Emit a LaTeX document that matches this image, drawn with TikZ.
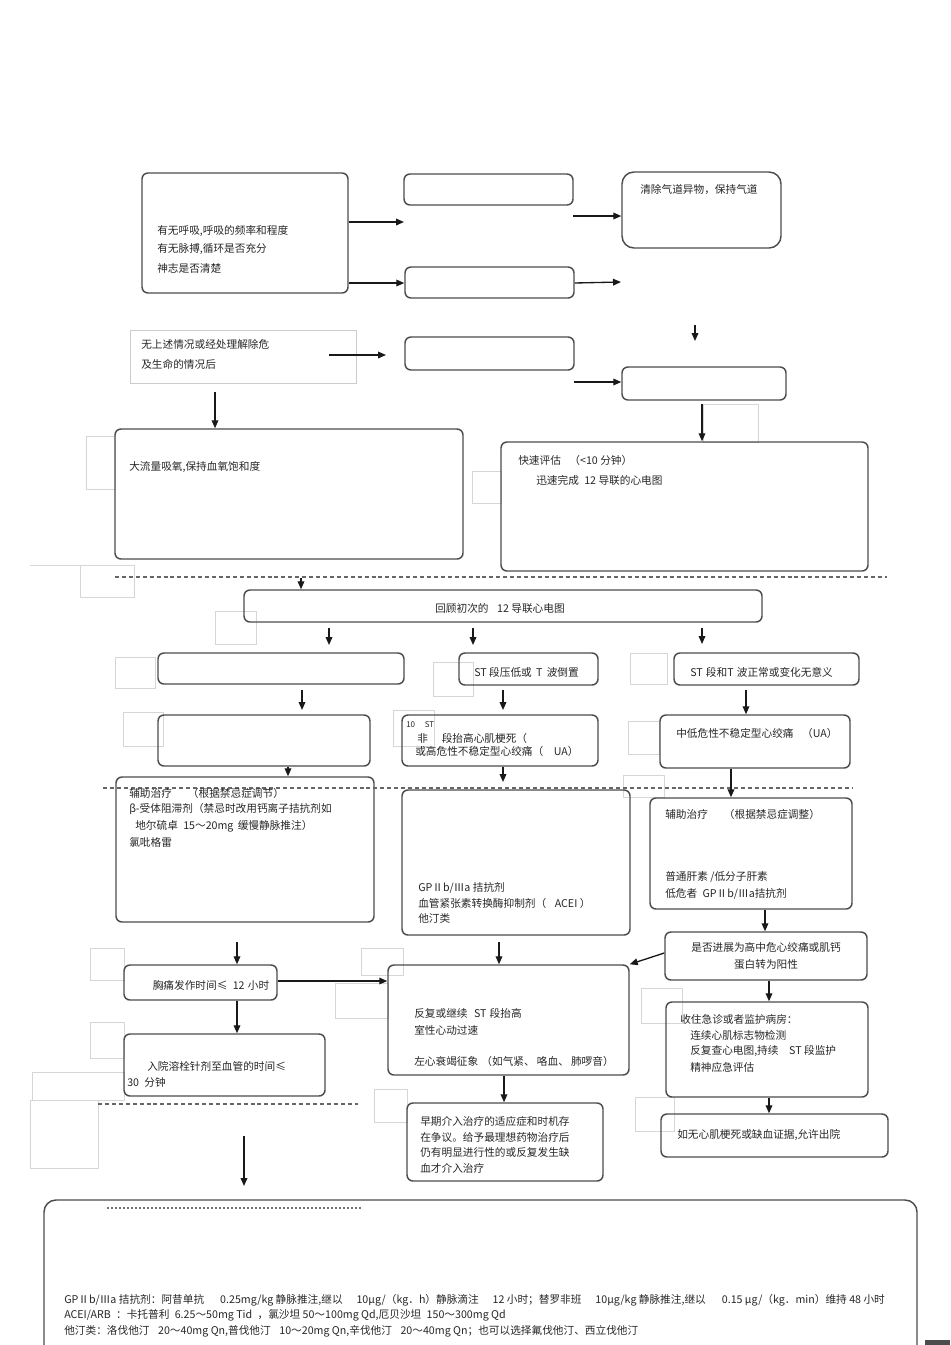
\documentclass[tikz,border=0pt]{standalone}
\usepackage{fontspec}
\setmainfont{Noto Sans CJK SC}
\usetikzlibrary{arrows.meta,fit}
\begin{document}
\begin{tikzpicture}[x=0.75pt,y=-0.75pt,
  box/.style={draw=black!70, line width=1.1pt, rounded corners=4.5pt, inner sep=0pt},
  bigbox/.style={draw=black!70, line width=1.1pt, rounded corners=9pt, inner sep=0pt},
  plain/.style={draw=black!20, line width=0.6pt, inner sep=0pt},
  faint/.style={draw=black!16, line width=0.6pt},
  txt/.style={anchor=west, inner sep=0pt, font=\fontsize{8}{9.6}\selectfont, text=black!85},
  ctxt/.style={anchor=center, inner sep=0pt, font=\fontsize{8}{9.6}\selectfont, text=black!85},
  small/.style={anchor=west, inner sep=0pt, font=\fontsize{6}{7}\selectfont, text=black!85},
  arr/.style={-{Triangle[length=6pt,width=5pt]}, line width=1pt, draw=black!90},
  dsh/.style={draw=black!60, line width=0.9pt, dash pattern=on 3pt off 2.2pt},
  dots/.style={draw=black!55, line width=0.8pt, dash pattern=on 1.5pt off 1.5pt}]
\useasboundingbox (0,0) rectangle (950,1345);

% faint background rectangles
\draw[faint] (86,436) rectangle (115,489);
\draw[faint] (472,471) rectangle (501,503);
\draw[faint] (703,404) rectangle (758,442);
\draw[faint] (80,565) rectangle (134,597);
\draw[faint] (30,565) -- (80,565);
\draw[faint] (215,611) rectangle (256,644);
\draw[faint] (115,657) rectangle (155,688);
\draw[faint] (433,662) rectangle (473,696);
\draw[faint] (630,653) rectangle (667,684);
\draw[faint] (393,710) rectangle (434,746);
\draw[faint] (123,712) rectangle (163,746);
\draw[faint] (628,721) rectangle (659,754);
\draw[faint] (623,775) rectangle (664,797);
\draw[faint] (90,948) rectangle (124,980);
\draw[faint] (90,1022) rectangle (124,1058);
\draw[faint] (32,1072) rectangle (124,1100);
\draw[faint] (30,1100) rectangle (98,1168);
\draw[faint] (335,983) rectangle (388,1018);
\draw[faint] (361,948) rectangle (403,975);
\draw[faint] (374,1089) rectangle (407,1122);
\draw[faint] (641,988) rectangle (682,1023);
\draw[faint] (635,1097) rectangle (674,1131);

% boxes
\node[box, fit={(142,173) (348,293)}] (A) {};
\node[box, fit={(404,174) (573,205)}] (B1) {};
\node[box, fit={(405,267) (574,298)}] (B2) {};
\node[bigbox, fit={(622,172) (781,248)}] (C) {};
\node[plain, fit={(130,330) (356,383)}] (D) {};
\node[box, fit={(405,337) (574,370)}] (E) {};
\node[box, fit={(622,367) (786,400)}] (F) {};
\node[box, fit={(115,429) (463,559)}] (G) {};
\node[box, fit={(501,442) (868,571)}] (H) {};
\node[box, fit={(244,590) (762,622)}] (I) {};
\node[box, fit={(158,653) (404,684)}] (J1) {};
\node[box, fit={(459,653) (598,685)}] (J2) {};
\node[box, fit={(674,653) (859,685)}] (J3) {};
\node[box, fit={(158,715) (370,766)}] (K1) {};
\node[box, fit={(402,715) (598,766)}] (K2) {};
\node[box, fit={(660,715) (850,768)}] (K3) {};
\node[box, fit={(116,777) (374,922)}] (L1) {};
\node[box, fit={(402,790) (630,935)}] (L2) {};
\node[box, fit={(650,798) (852,909)}] (L3) {};
\node[box, fit={(124,965) (277,1000)}] (M1) {};
\node[box, fit={(665,932) (867,980)}] (M3) {};
\node[box, fit={(388,965) (629,1075)}] (N2) {};
\node[box, fit={(124,1034) (325,1096)}] (M1b) {};
\node[box, fit={(666,1002) (868,1097)}] (N3) {};
\node[box, fit={(407,1103) (603,1181)}] (O) {};
\node[box, fit={(661,1114) (888,1157)}] (Q) {};
\draw[draw=black!70, line width=1.1pt, rounded corners=9pt] (44,1380) -- (44,1200) -- (917,1200) -- (917,1380);
\fill[black!70] (925,1340) rectangle (950,1345);

% dashed separators
\draw[dsh] (115,577) -- (887,577);
\draw[dsh] (103,788) -- (852,788);
\draw[dsh] (98,1104) -- (358,1104);
\draw[dots] (107,1208) -- (362,1208);

% free connector ends
\coordinate (a1) at (404,222);
\coordinate (a3s) at (573,216);
\coordinate (a4e) at (621,282);
\coordinate (a5s) at (695,325);
\coordinate (a5e) at (695,341);
\coordinate (a6s) at (329,355);
\coordinate (a6e) at (386,355);
\coordinate (a7s) at (574,382);
\coordinate (a8s) at (702,404);
\coordinate (a9s) at (215,392);
\coordinate (a10s) at (301,578);
\coordinate (a11s) at (329,628);
\coordinate (a11e) at (329,645);
\coordinate (a12s) at (473,628);
\coordinate (a12e) at (473,645);
\coordinate (a13s) at (702,628);
\coordinate (a13e) at (702,644);
\coordinate (a14s) at (302,690);
\coordinate (a14e) at (302,710);
\coordinate (a15s) at (503,690);
\coordinate (a15e) at (503,710);
\coordinate (a16s) at (746,690);
\coordinate (a19e) at (503,782);
\coordinate (a23s) at (237,942);
\coordinate (a24s) at (499,942);
\coordinate (a28s) at (244,1136);
\coordinate (a28e) at (244,1186);

% connectors
\draw[arr] (A.east |- a1) -- (a1);
\draw[arr] (A.east |- 0,283) -- (B2.west |- 0,283);
\draw[arr] (a3s) -- (C.west |- a3s);
\draw[arr] (B2.east |- 0,283) -- (a4e);
\draw[arr] (a5s) -- (a5e);
\draw[arr] (a6s) -- (a6e);
\draw[arr] (a7s) -- (F.west |- a7s);
\draw[arr] (a8s) -- (H.north -| a8s);
\draw[arr] (a9s) -- (G.north -| a9s);
\draw[arr] (a10s) -- (I.north -| a10s);
\draw[arr] (a11s) -- (a11e);
\draw[arr] (a12s) -- (a12e);
\draw[arr] (a13s) -- (a13e);
\draw[arr] (a14s) -- (a14e);
\draw[arr] (a15s) -- (a15e);
\draw[arr] (a16s) -- (K3.north -| a16s);
\draw[arr] (K1.south -| 288,0) -- (L1.north -| 288,0);
\draw[arr] (K2.south -| a19e) -- (a19e);
\draw[arr] (K3.south -| 731,0) -- (L3.north -| 731,0);
\draw[arr] (L3.south -| 765,0) -- (M3.north -| 765,0);
\draw[arr] (M3.west |- 0,953) -- (N2.north east);
\draw[arr] (a23s) -- (M1.north -| a23s);
\draw[arr] (a24s) -- (N2.north -| a24s);
\draw[arr] (M1.east |- 0,981) -- (N2.west |- 0,981);
\draw[arr] (M1.south -| 237,0) -- (M1b.north -| 237,0);
\draw[arr] (N2.south -| 504,0) -- (O.north -| 504,0);
\draw[arr] (a28s) -- (a28e);
\draw[arr] (M3.south -| 769,0) -- (N3.north -| 769,0);
\draw[arr] (N3.south -| 769,0) -- (Q.north -| 769,0);

% texts
\node[txt] (tA1) at (157,231) {有无呼吸,呼吸的频率和程度};
\node[txt] (tA2) at (157,249) {有无脉搏,循环是否充分};
\node[txt] (tA3) at (157,268) {神志是否清楚};
\node[txt] (tC) at (640,190) {清除气道异物，保持气道};
\node[txt] (tD1) at (141,344) {无上述情况或经处理解除危};
\node[txt] (tD2) at (141,364) {及生命的情况后};
\node[txt] (tG) at (129,467) {大流量吸氧,保持血氧饱和度};
\node[txt] (tH1) at (518,460) {快速评估\hspace{0.8em}（<10 分钟）};
\node[txt] (tH2) at (536,480) {迅速完成\hspace{0.5em}12 导联的心电图};
\node[txt] (tI) at (435,608) {回顾初次的\hspace{0.8em}12 导联心电图};
\node[txt] (tJ2) at (474,672) {ST 段压低或\hspace{0.4em}T\hspace{0.4em}波倒置};
\node[txt] (tJ3) at (690,672) {ST\hspace{0.3em}段和T\hspace{0.3em}波正常或变化无意义};
\node[small] (tK2a) at (406,725) {10\hspace{1.2em}ST};
\node[txt] (tK2b) at (417,738) {非\hspace{1.3em}段抬高心肌梗死（};
\node[txt] (tK2c) at (415,751) {或高危性不稳定型心绞痛（\hspace{1em}UA）};
\node[txt] (tK3) at (676,733) {中低危性不稳定型心绞痛\hspace{0.8em}（UA）};
\node[txt] (tL1a) at (129,793) {辅助治疗\hspace{1.5em}（根据禁忌症调节）};
\node[txt] (tL1b) at (129,809) {β-受体阻滞剂（禁忌时改用钙离子拮抗剂如};
\node[txt] (tL1c) at (135,826) {地尔硫卓\hspace{0.5em}15～20mg\hspace{0.4em}缓慢静脉推注）};
\node[txt] (tL1d) at (129,842) {氯吡格雷};
\node[txt] (tL2a) at (418,888) {GPⅡb/Ⅲa 拮抗剂};
\node[txt] (tL2b) at (418,903) {血管紧张素转换酶抑制剂（\hspace{0.8em}ACEI ）};
\node[txt] (tL2c) at (418,918) {他汀类};
\node[txt] (tL3a) at (665,814) {辅助治疗\hspace{1.5em}（根据禁忌症调整）};
\node[txt] (tL3b) at (665,877) {普通肝素 /低分子肝素};
\node[txt] (tL3c) at (665,894) {低危者\hspace{0.5em}GPⅡb/Ⅲa拮抗剂};
\node[ctxt] (tM3a) at (766,947) {是否进展为高中危心绞痛或肌钙};
\node[ctxt] (tM3b) at (766,964) {蛋白转为阳性};
\node[ctxt] (tM1) at (211,985) {胸痛发作时间≤\hspace{0.5em}12\hspace{0.3em}小时};
\node[txt] (tN2a) at (414,1013) {反复或继续\hspace{0.6em}ST\hspace{0.3em}段抬高};
\node[txt] (tN2b) at (414,1030) {室性心动过速};
\node[txt] (tN2c) at (414,1061) {左心衰竭征象\hspace{0.3em}（如气紧、\hspace{0.2em}咯血、\hspace{0.2em}肺啰音）};
\node[txt] (tM1b1) at (147,1066) {入院溶栓针剂至血管的时间≤};
\node[txt] (tM1b2) at (127,1082) {30\hspace{0.5em}分钟};
\node[txt] (tN3a) at (680,1019) {收住急诊或者监护病房：};
\node[txt] (tN3b) at (690,1035) {连续心肌标志物检测};
\node[txt] (tN3c) at (690,1051) {反复查心电图,持续\hspace{1em}ST 段监护};
\node[txt] (tN3d) at (690,1067) {精神应急评估};
\node[txt] (tO1) at (420,1121) {早期介入治疗的适应症和时机存};
\node[txt] (tO2) at (420,1137) {在争议。给予最理想药物治疗后};
\node[txt] (tO3) at (420,1152) {仍有明显进行性的或反复发生缺};
\node[txt] (tO4) at (420,1168) {血才介入治疗};
\node[txt] (tQ) at (677,1135) {如无心肌梗死或缺血证据,允许出院};
\node[txt] (tP1) at (64,1300) {GPⅡb/Ⅲa 拮抗剂：阿昔单抗\hspace{1.5em}0.25mg/kg 静脉推注,继以\hspace{1.3em}10μg/（kg．h）静脉滴注\hspace{1.3em}12 小时；替罗非班\hspace{1.3em}10μg/kg 静脉推注,继以\hspace{1.5em}0.15 μg/（kg．min）维持 48 小时};
\node[txt] (tP2) at (64,1315) {ACEI/ARB\hspace{0.5em}：卡托普利\hspace{0.5em}6.25～50mg Tid\hspace{0.5em}，氯沙坦 50～100mg Qd,厄贝沙坦\hspace{0.5em}150～300mg Qd};
\node[txt] (tP3) at (64,1331) {他汀类：洛伐他汀\hspace{0.8em}20～40mg Qn,普伐他汀\hspace{0.8em}10～20mg Qn,辛伐他汀\hspace{0.8em}20～40mg Qn；也可以选择氟伐他汀、西立伐他汀};
\end{tikzpicture}
\end{document}
